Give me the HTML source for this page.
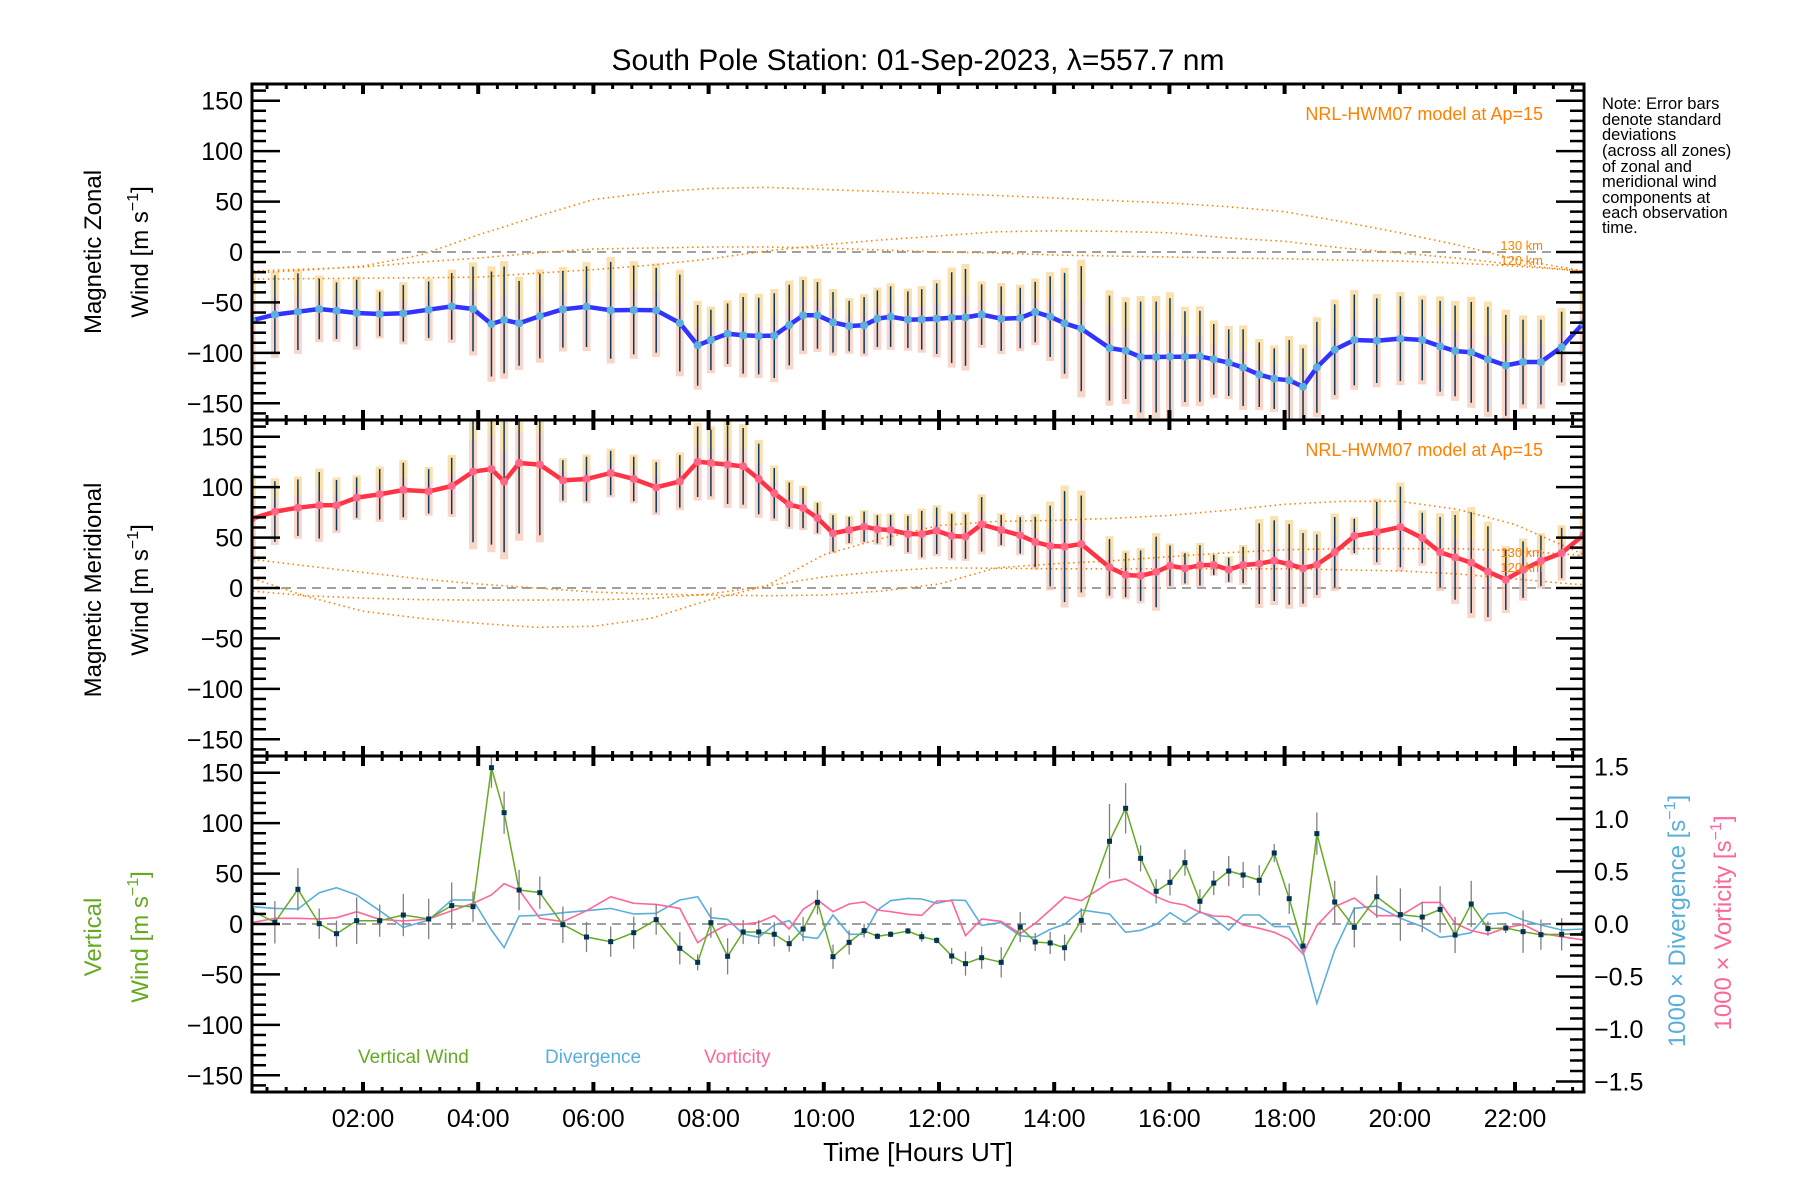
<!DOCTYPE html>
<html><head><meta charset="utf-8">
<style>
html,body{margin:0;padding:0;background:#fff;}
svg{display:block;font-family:"Liberation Sans",sans-serif;}
</style></head>
<body>
<svg id="chart" width="1800" height="1200" viewBox="0 0 1800 1200" xmlns="http://www.w3.org/2000/svg">
<text x="918" y="70" font-size="30" text-anchor="middle" fill="#000">South Pole Station: 01-Sep-2023, λ=557.7 nm</text>
</svg>
<script>
// ---------- data ----------
const times = [0.07,0.47,0.87,1.24,1.54,1.89,2.29,2.70,3.14,3.54,3.91,4.23,4.45,4.71,5.07,5.47,5.88,6.30,6.70,7.09,7.50,7.81,8.04,8.33,8.60,8.87,9.14,9.40,9.64,9.89,10.16,10.44,10.70,10.93,11.16,11.46,
 11.70,11.96,12.22,12.46,12.74,13.08,13.41,13.67,13.93,14.18,14.47,14.96,15.24,15.50,15.77,16.01,16.27,16.53,16.77,17.03,17.28,17.56,17.82,18.08,18.32,18.56,18.87,19.21,19.60,20.01,20.39,20.70,20.96,21.24,21.53,21.84,22.14,22.45,22.81,23.19];
const zonal = [-67.7,-62.1,-59.2,-56.5,-58.2,-60.5,-61.5,-60.8,-57.2,-53.9,-56.5,-71.4,-67.4,-70.7,-63.5,-56.8,-54.2,-57.8,-57.5,-57.8,-70.4,-92.5,-87.2,-81.0,-82.6,-83.3,-82.9,-72.4,-62.8,-62.8,-69.7,-73.4,-72.7,-66.1,-64.1,-67.1,
 -66.8,-66.1,-65.1,-64.8,-62.1,-66.1,-65.4,-59.5,-64.1,-70.7,-76.0,-95.2,-97.8,-104.1,-104.1,-103.8,-103.8,-103.4,-106.4,-109.7,-114.6,-121.6,-125.6,-127.2,-133.5,-114.3,-96.8,-87.2,-87.9,-85.9,-87.2,-93.5,-98.1,-99.5,-106.4,-112.4,-109.1,-109.1,-94.2,-70.4];
const zonalErr = [45,39,38,30,28,33,22,28,28,33,42,52,53,42,42,38,40,48,44,42,48,40,30,30,38,38,42,40,35,33,30,25,28,28,30,28,
 30,35,45,48,30,32,30,30,40,50,62,52,48,55,55,58,45,45,35,33,38,32,30,40,38,45,45,45,42,42,40,45,45,50,52,50,42,42,35,30];
const merid = [68.7,75.7,79.6,82,82,89.6,92.9,97.2,95.8,101.1,115.3,118,105.4,123.9,122.3,106.7,108.1,114,108.1,99.8,105.7,125.2,123.9,122.3,120.6,108.1,93.9,82.6,79.3,69.4,54.2,57.5,60.8,58.2,57.5,53.5,
 53.5,56.8,51.6,50.9,63.1,57.5,52.2,45.6,41.6,41,43.6,20.5,12.9,12.2,15.9,22.1,19.5,22.5,22.8,18.2,22.8,24.1,27.1,23.5,19.5,23.1,35.4,51.6,55.5,60.5,49.6,35.4,30.4,25.1,16.2,8.3,18.2,26.8,34.7,52.5];
const meridErr = [40,30,28,33,25,20,25,27,22,28,70,75,70,70,70,20,22,22,22,25,26,35,33,39,38,35,25,22,20,15,18,13,15,14,15,18,
 23,23,22,22,27,15,18,25,40,55,48,28,22,25,35,20,15,20,10,12,18,40,40,40,35,30,35,17,30,40,25,35,42,50,45,30,28,25,25,20];
const vertical = [13.2,1.7,34.4,0.3,-9.6,3.3,3.3,8.9,5.0,18.2,17.2,155,110.4,33.7,31.1,-0.7,-12.9,-17.5,-8.6,4.3,-24.1,-38,1.3,-32,-7.9,-7.9,-10.2,-19.5,-5,21.5,-32.4,-18.2,-6.6,-12.2,-10.2,-6.9,
 -12.6,-16.2,-31.7,-39.3,-33.4,-38,-3,-17.8,-18.8,-23.5,3.6,82,114.7,65.1,32.4,41.3,60.8,22.5,40.6,52.5,48.6,43.3,70.4,25.1,-21.8,89.6,21.8,-3.3,27.1,9.3,6.9,14.5,-10.9,19.8,-4.6,-4,-7.6,-10.6,-10.2,-9.3];
const verticalErr = [0,21,21,15,13,23,16,21,20,23,15,20,21,20,16,18,15,15,16,15,16,8,15,18,12,12,12,8,12,12,12,12,7,3,3,3,
 5,3,8,12,11,15,15,9,11,13,12,37,25,13,12,13,13,12,12,15,13,15,9,15,5,21,21,20,21,26,15,23,18,23,7,5,21,15,16,0];
const divergence = [.165,.149,.143,.298,.346,.276,.127,-.032,.038,.229,.229,-.057,-.225,.076,.083,.108,.127,.149,.095,.102,.229,.260,.060,.044,-.095,-.127,-.010,.032,-.121,-.137,.086,-.098,-.098,.133,.222,.244,
 .238,.197,.229,.225,-.013,.013,-.111,-.127,-.051,-.003,.133,.095,-.079,-.060,-.003,.108,.016,.117,.054,-.057,.086,.086,-.025,-.025,-.263,-.756,-.248,.149,.171,.054,-.025,-.127,-.111,-.083,.095,.108,.038,-.010,-.057,-.048];
const vorticity = [.013,.054,.054,.048,.060,.117,.044,.029,.048,.127,.197,.276,.384,.324,.054,.022,.127,.260,.197,.187,.149,-.178,-.089,-.003,-.003,.016,.079,-.048,.140,.229,.117,.190,.210,.133,.117,.092,
 .083,.219,.222,-.111,.048,.025,-.092,.006,.133,.257,.222,.397,.429,.349,.260,.206,.181,.111,.076,.070,-.010,-.041,-.079,-.146,-.286,-.013,.165,.248,.079,.079,.206,.206,.006,-.063,-.098,-.035,-.006,-.089,-.121,-.152];
const modelHours = [0,1,2,3,4,5,6,7,8,9,10,11,12,13,14,15,16,17,18,19,20,21,22,23,23.2];
const modelZonalA = [-21,-18,-14,-3,17,35,52,59,63,64,62,60,58,56,53.5,51,48.6,45,40,30,19,7,-7,-17,-19];
const modelZonalB = [-19,-17,-15,-10,-6,-1,3,4,5,5,4,2,0,-1,-3,-4,-5,-6,-6.6,-8,-9,-11,-14,-18,-19];
const modelZonalC = [-27,-26.5,-26,-25.5,-25,-21,-17.5,-13,-7,1,7,12,16,20,21,20.5,19,14,10.6,4,-1,-6,-12.5,-18,-19];
const modelMeridE = [11,-8,-23,-30,-35,-39,-38,-30,-12,2,33,49,62,66,67,69,72,77,83,86,86,78,63,38,33];
const modelMeridD = [29,22,15.5,9,4,0,-4,-6,-7,-7.6,-7,-3,4,20,24,27,31,35,38,39,39,39,37,33,32];
const modelMeridF = [-2.6,-7.6,-10,-11.5,-12,-12,-11.6,-10.5,-6,2,11,16.5,20,19.5,19,19,19,19,19,18,17,14,9,4,3.3];
const yTickLabels = [-150,-100,-50,0,50,100,150];
const rightTickLabels = [-1.5,-1.0,-0.5,0.0,0.5,1.0,1.5];
const xTickHours = [2,4,6,8,10,12,14,16,18,20,22];

// ---------- layout ----------
const NS="http://www.w3.org/2000/svg";
const svg=document.getElementById('chart');
const L=252,R=1584,PH=336;
const tops=[84,420,756];
const PXU=1.0087, PXR=105;
function xS(h){return 247.8+h*57.6;}
function yS(v,p){return tops[p]+168-v*PXU;}
function yR(v){return tops[2]+168-v*PXR;}
function mk(tag,attrs,parent){const e=document.createElementNS(NS,tag);for(const k in attrs)e.setAttribute(k,attrs[k]);(parent||svg).appendChild(e);return e;}
function fmt(v){return (v<0?'\u2212':'')+Math.abs(v);}
function fmt1(v){return (v<0?'\u2212':'')+Math.abs(v).toFixed(1);}

const defs=mk('defs',{});
for(let p=0;p<3;p++){const c=mk('clipPath',{id:'clip'+p},defs);mk('rect',{x:L,y:tops[p],width:R-L,height:PH},c);}

function line(hours,vals,yf,attrs,name,g){
  const pts=hours.map((h,i)=>xS(h).toFixed(1)+','+yf(vals[i]).toFixed(1)).join(' ');
  const e=mk('polyline',Object.assign({points:pts,fill:'none'},attrs),g);
  
  
  return e;
}

const panelNames=['zonal-panel','meridional-panel','vertical-panel'];
const groups=[];
for(let p=0;p<3;p++){
  const g=mk('g',{'clip-path':'url(#clip'+p+')'});
  
  
  groups.push(g);
  const z=mk('line',{x1:L,x2:R,y1:yS(0,p),y2:yS(0,p),stroke:'#808080','stroke-width':1.5,'stroke-dasharray':'9,6'},g);
  
  
}

function windPanel(p,vals,errs,models,color,markColor,prefix){
  const g=groups[p];
  times.forEach((h,i)=>{
    const top=yS(vals[i]+errs[i]*1.1,p), hgt=errs[i]*2.2*PXU;
    const b=mk('rect',{x:xS(h)-4,y:top,width:8,height:hgt,fill:'#f8c4b0',opacity:0.7},g);
    
    
    const b2=mk('rect',{x:xS(h)-4,y:top,width:8,height:hgt*0.3,fill:'#fbe3a8',opacity:0.8},g);
    
    
  });
  models.forEach((m,k)=>{line(modelHours,m,v=>yS(v,p),{stroke:'#ff8000','stroke-width':1.6,'stroke-dasharray':'1.5,3.5'},prefix+'-model-curve-'+k,g);});
  times.forEach((h,i)=>{
    const e=mk('line',{x1:xS(h),x2:xS(h),y1:yS(vals[i]+errs[i],p),y2:yS(vals[i]-errs[i],p),stroke:'#0a3a60','stroke-width':1.5},g);
    
    
  });
  line(times,vals,v=>yS(v,p),{stroke:color,'stroke-width':4.5,'stroke-linejoin':'round'},prefix+'-wind-line',g);
  times.forEach((h,i)=>{
    const c=mk('circle',{cx:xS(h),cy:yS(vals[i],p),r:4,fill:markColor},g);
    
    
  });
}
windPanel(0,zonal,zonalErr,[modelZonalA,modelZonalB,modelZonalC],'#3333ff','#5ab0dc','zonal');
windPanel(1,merid,meridErr,[modelMeridE,modelMeridD,modelMeridF],'#ff3344','#ff6688','meridional');

(function(){
  const g=groups[2];
  line(times,divergence,yR,{stroke:'#5aaedc','stroke-width':1.6},'divergence-line',g);
  line(times,vorticity,yR,{stroke:'#ff6699','stroke-width':1.6},'vorticity-line',g);
  times.forEach((h,i)=>{
    if(verticalErr[i]>0){
      const e=mk('line',{x1:xS(h),x2:xS(h),y1:yS(vertical[i]+verticalErr[i],2),y2:yS(vertical[i]-verticalErr[i],2),stroke:'#808080','stroke-width':1.3},g);
      
      
    }
  });
  line(times,vertical,v=>yS(v,2),{stroke:'#66aa22','stroke-width':1.5},'vertical-wind-line',g);
  times.forEach((h,i)=>{
    const c=mk('rect',{x:xS(h)-2.5,y:yS(vertical[i],2)-2.5,width:5,height:5,fill:'#003355'},g);
    
    
  });
})();

for(let p=0;p<3;p++){
  const ax=mk('g',{});
  
  
  const fr=mk('rect',{x:L,y:tops[p],width:R-L,height:PH,fill:'none',stroke:'#000','stroke-width':3},ax);
  
  
  for(let v=-160;v<=160;v+=10){
    const maj=v%50===0, y=yS(v,p), len=maj?28:14;
    mk('line',{x1:L,x2:L+len,y1:y,y2:y,stroke:'#000','stroke-width':2.5},ax);
    if(p<2) mk('line',{x1:R,x2:R-len,y1:y,y2:y,stroke:'#000','stroke-width':2.5},ax);
  }
  yTickLabels.forEach(v=>{
    const t=mk('text',{x:243,y:yS(v,p)+9,'font-size':25,'text-anchor':'end',fill:'#000'},ax);
    t.textContent=fmt(v);
    
    
  });
  for(let m=20;m<=23.2*60;m+=20){
    const h=m/60, maj=(m%120===0), len=maj?10:5, w=maj?4:3;
    mk('line',{x1:xS(h),x2:xS(h),y1:tops[p],y2:tops[p]+len,stroke:'#000','stroke-width':w},ax);
    mk('line',{x1:xS(h),x2:xS(h),y1:tops[p]+PH,y2:tops[p]+PH-len,stroke:'#000','stroke-width':w},ax);
  }
}
(function(){
  const ax=mk('g',{});
  
  
  for(let k=-16;k<=16;k++){
    const v=k/10, maj=(k%5===0), y=yR(v);
    mk('line',{x1:R,x2:R-(maj?28:14),y1:y,y2:y,stroke:'#000','stroke-width':2.5},ax);
  }
  rightTickLabels.forEach(v=>{
    const t=mk('text',{x:1594,y:yR(v)+9,'font-size':25,fill:'#000'},ax);
    t.textContent=fmt1(v);
    
    
  });
})();
xTickHours.forEach(h=>{
  const t=mk('text',{x:xS(h),y:1127,'font-size':25,'text-anchor':'middle',fill:'#000'});
  t.textContent=(h<10?'0':'')+h+':00';
  
  
});
</script>
<svg width="1800" height="1200" viewBox="0 0 1800 1200" style="position:absolute;left:0;top:0;font-family:'Liberation Sans',sans-serif" xmlns="http://www.w3.org/2000/svg">
<text x="918" y="1161" font-size="26" text-anchor="middle">Time [Hours UT]</text>
<g transform="translate(101,252) rotate(-90)"><text x="0" y="0" font-size="24" text-anchor="middle">Magnetic Zonal</text></g>
<g transform="translate(148,252) rotate(-90)"><text x="0" y="0" font-size="24" text-anchor="middle">Wind [m s<tspan font-size="16" dy="-10">−1</tspan><tspan dy="10">]</tspan></text></g>
<g transform="translate(101,590) rotate(-90)"><text x="0" y="0" font-size="24" text-anchor="middle">Magnetic Meridional</text></g>
<g transform="translate(148,590) rotate(-90)"><text x="0" y="0" font-size="24" text-anchor="middle">Wind [m s<tspan font-size="16" dy="-10">−1</tspan><tspan dy="10">]</tspan></text></g>
<g transform="translate(101,937) rotate(-90)"><text x="0" y="0" font-size="24" text-anchor="middle" fill="#66aa22">Vertical</text></g>
<g transform="translate(148,937) rotate(-90)"><text x="0" y="0" font-size="24" text-anchor="middle" fill="#66aa22">Wind [m s<tspan font-size="16" dy="-10">−1</tspan><tspan dy="10">]</tspan></text></g>
<g transform="translate(1685,921) rotate(-90)"><text x="0" y="0" font-size="24" text-anchor="middle" fill="#5aaedc">1000 × Divergence [s<tspan font-size="16" dy="-10">−1</tspan><tspan dy="10">]</tspan></text></g>
<g transform="translate(1731,923) rotate(-90)"><text x="0" y="0" font-size="24" text-anchor="middle" fill="#ff6699">1000 × Vorticity [s<tspan font-size="16" dy="-10">−1</tspan><tspan dy="10">]</tspan></text></g>
<g font-size="16.5" fill="#000">
<text x="1602" y="109">Note: Error bars</text>
<text x="1602" y="125">denote standard</text>
<text x="1602" y="140">deviations</text>
<text x="1602" y="156">(across all zones)</text>
<text x="1602" y="172">of zonal and</text>
<text x="1602" y="187">meridional wind</text>
<text x="1602" y="203">components at</text>
<text x="1602" y="218">each observation</text>
<text x="1602" y="233">time.</text>
</g>
<text x="1543" y="120" font-size="18" text-anchor="end" fill="#ff8000">NRL-HWM07 model at Ap=15</text>
<text x="1543" y="456" font-size="18" text-anchor="end" fill="#ff8000">NRL-HWM07 model at Ap=15</text>
<text x="1543" y="250" font-size="13" text-anchor="end" fill="#ff8000">130 km</text>
<text x="1543" y="265" font-size="13" text-anchor="end" fill="#ff8000">120 km</text>
<text x="1543" y="557" font-size="13" text-anchor="end" fill="#ff8000">130 km</text>
<text x="1543" y="572" font-size="13" text-anchor="end" fill="#ff8000">120 km</text>
<text x="358" y="1063" font-size="19" fill="#66aa22">Vertical Wind</text>
<text x="545" y="1063" font-size="19" fill="#5aaedc">Divergence</text>
<text x="704" y="1063" font-size="19" fill="#ff6699">Vorticity</text>
</svg>
</body></html>
